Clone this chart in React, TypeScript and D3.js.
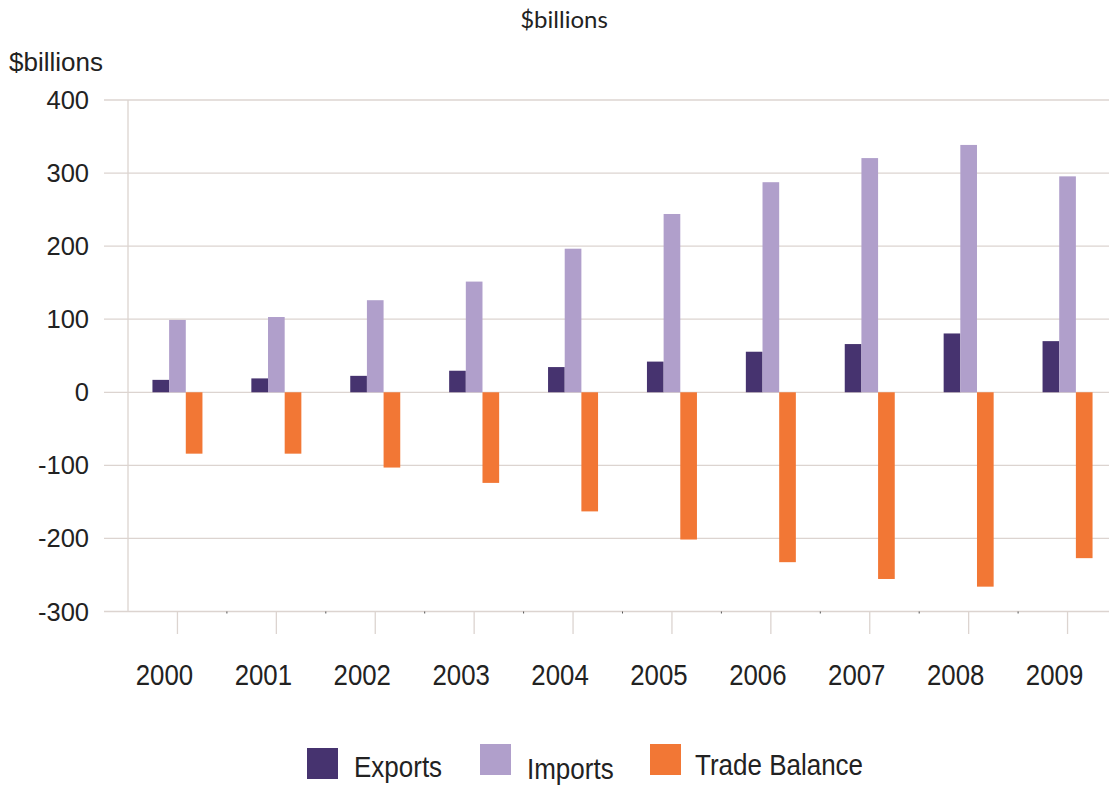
import React from "react";
import * as d3 from "d3";

const years = ["2000", "2001", "2002", "2003", "2004", "2005", "2006", "2007", "2008", "2009"];
const exportsVals = [17, 19, 22.5, 29.5, 34.5, 42, 55.5, 66, 80.5, 70];
const importsVals = [99, 103, 126, 151.5, 196.5, 244, 287.5, 320.5, 338.5, 295.5];
const balanceVals = [-84, -84, -103, -124, -163, -201.5, -232.5, -255.5, -266, -227];
const yTicks = [400, 300, 200, 100, 0, -100, -200, -300];

const seriesNames = ["Exports", "Imports", "Trade Balance"];
const seriesColors = ["#46336f", "#b09fcb", "#f27735"];

const width = 1109;
const height = 785;
const font = "'Liberation Sans', Arial, sans-serif";

export default function App() {
  const x0 = d3.scaleBand().domain(years).range([128, 1117]).paddingInner(0);
  const inner = d3.scaleBand().domain(seriesNames).range([0, 50]);
  const y = d3.scaleLinear().domain([-300, 400]).range([611.5, 100]);

  const series = [exportsVals, importsVals, balanceVals];
  const gridColor = "#dcd4d0";

  return (
    <div style={{ position: "absolute", left: 0, top: 0 }}>
      <svg width={width} height={height} style={{ display: "block", background: "#fff" }}>
        {/* title */}
        <text x={564} y={28} textAnchor="middle" fontFamily="Lato, 'Open Sans', sans-serif" fontSize={24} fill="#222">
          $billions
        </text>
        <text x={9} y={71} fontFamily={font} fontSize={26} fill="#222">
          $billions
        </text>

        {/* grid */}
        <g>
          {yTicks.map((t) => (
            <g key={t}>
              <line x1={104} x2={width} y1={y(t)} y2={y(t)} stroke={gridColor} strokeWidth={1.3} />
              <text x={89} y={y(t) + 9} textAnchor="end" fontFamily={font} fontSize={25.5} fill="#222">
                {t}
              </text>
            </g>
          ))}
          <line x1={128} x2={128} y1={y(400)} y2={y(-300)} stroke={gridColor} strokeWidth={1.3} />
        </g>

        {/* x ticks */}
        <g>
          {years.map((yr) => {
            const cx = (x0(yr) as number) + x0.bandwidth() / 2;
            const bx = (x0(yr) as number) + x0.bandwidth();
            return (
              <g key={yr}>
                <line x1={cx} x2={cx} y1={y(-300)} y2={634} stroke={gridColor} strokeWidth={1.3} />
                <line x1={bx} x2={bx} y1={y(-300)} y2={y(-300) + 2} stroke="#555" strokeWidth={1} />
                <text
                  transform={`translate(${cx - 13},685) scale(1,1.12)`}
                  textAnchor="middle"
                  fontFamily={font}
                  fontSize={25.8}
                  fill="#222"
                >
                  {yr}
                </text>
              </g>
            );
          })}
        </g>

        {/* bars */}
        <g>
          {series.map((vals, si) =>
            vals.map((v, i) => {
              const bx = (x0(years[i]) as number) + x0.bandwidth() / 2 - 25 + (inner(seriesNames[si]) as number);
              const y1 = y(Math.max(0, v));
              const y2 = y(Math.min(0, v));
              return (
                <rect
                  key={`${si}-${i}`}
                  x={bx}
                  y={y1}
                  width={inner.bandwidth()}
                  height={y2 - y1}
                  fill={seriesColors[si]}
                />
              );
            })
          )}
        </g>

        {/* legend */}
        <g>
          <rect x={307} y={748} width={31} height={31} fill={seriesColors[0]} />
          <text transform="translate(354,777) scale(1,1.12)" fontFamily={font} fontSize={26} fill="#222">
            {seriesNames[0]}
          </text>
          <rect x={480} y={744} width={31} height={31} fill={seriesColors[1]} />
          <text transform="translate(527,779) scale(1,1.12)" fontFamily={font} fontSize={26} fill="#222">
            {seriesNames[1]}
          </text>
          <rect x={650} y={744} width={31} height={31} fill={seriesColors[2]} />
          <text transform="translate(695,775) scale(1,1.12)" fontFamily={font} fontSize={26} fill="#222">
            {seriesNames[2]}
          </text>
        </g>
      </svg>
    </div>
  );
}
